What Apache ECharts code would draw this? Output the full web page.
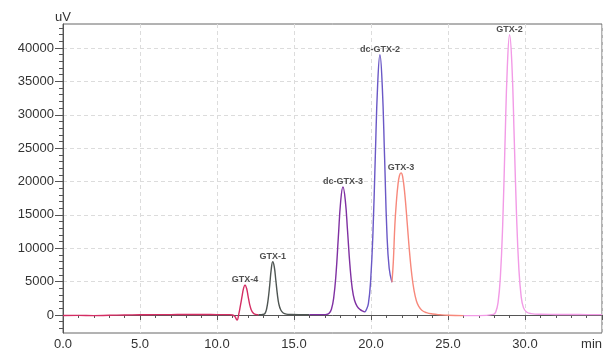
<!DOCTYPE html>
<html>
<head>
<meta charset="utf-8">
<script src="https://cdn.jsdelivr.net/npm/echarts@6/dist/echarts.min.js"></script>
<style>html,body{margin:0;padding:0;background:#fff}#c{width:606px;height:354px}</style>
</head>
<body>
<div id="c"></div>
<script>
// Chromatogram traces [time (min), signal (uV)]
var traceGTX4 = [[0,-80],[1,-60],[2,-100],[3,-50],[4,0],[5,30],[6,50],[7,60],[8,80],[9,80],[10,60],[10.8,50],[11.0,0],[11.15,-200],[11.3,-750],[11.42,200],[11.52,1400],[11.62,2700],[11.72,3950],[11.82,4500],[11.92,4000],[12.02,2800],[12.12,1600],[12.22,800],[12.35,300],[12.5,100],[12.7,40]];
var traceGTX1 = [[12.7,40],[12.9,60],[13.02,100],[13.12,250],[13.22,900],[13.32,2300],[13.42,4400],[13.52,6800],[13.62,8000],[13.72,7200],[13.82,5200],[13.92,3100],[14.02,1600],[14.15,700],[14.3,300],[14.5,130],[14.8,80],[15.3,60],[16,60]];
var traceDcGTX3 = [[16,60],[16.5,50],[17.0,50],[17.1,80],[17.28,250],[17.43,850],[17.58,2600],[17.73,6200],[17.88,11700],[18.03,17000],[18.18,19200],[18.33,17200],[18.48,12500],[18.63,7500],[18.78,4000],[18.93,2200],[19.1,1300],[19.3,800],[19.5,550],[19.6,450]];
var traceDcGTX2 = [[19.6,450],[19.68,700],[19.83,1700],[19.98,5300],[20.13,12500],[20.28,23800],[20.43,34400],[20.58,39000],[20.73,34400],[20.88,23800],[21.03,12500],[21.18,7000],[21.36,4900]];
var traceGTX3 = [[21.36,4900],[21.45,8000],[21.55,13500],[21.65,17000],[21.75,19500],[21.85,20900],[21.95,21300],[22.05,20800],[22.2,18000],[22.35,13800],[22.5,9500],[22.65,6000],[22.8,3600],[22.95,2100],[23.1,1300],[23.3,700],[23.6,350],[24.0,150],[24.5,30],[25,-50],[26,-100]];
var traceGTX2 = [[26,-100],[27,-100],[27.95,100],[28.1,460],[28.25,1850],[28.4,5700],[28.55,13400],[28.7,25600],[28.85,37000],[29.0,42000],[29.15,37500],[29.3,26500],[29.45,15000],[29.6,7000],[29.75,2800],[29.9,1100],[30.1,450],[30.4,200],[31,100],[32,80],[33,70],[34,60],[35,60]];

// Peak annotations
var peakNames = ['GTX-4','GTX-1','dc-GTX-3','dc-GTX-2','GTX-3','GTX-2'];
var peakTimes = [11.82, 13.62, 18.18, 20.58, 21.95, 29.0];
var peakValues = [4500, 8000, 19200, 39000, 21300, 42000];

// Axis ticks
var yMajorTicks = [0,5000,10000,15000,20000,25000,30000,35000,40000];
var yMinorTicks = [-2000,-1000,1000,2000,3000,4000,6000,7000,8000,9000,11000,12000,13000,14000,16000,17000,18000,19000,21000,22000,23000,24000,26000,27000,28000,29000,31000,32000,33000,34000,36000,37000,38000,39000,41000,42000,43000];

var traceColors = ['#d42d63','#4e5552','#7f30a2','#6a58c6','#f7887b','#f29ae6'];
var traces = [traceGTX4, traceGTX1, traceDcGTX3, traceDcGTX2, traceGTX3, traceGTX2];

var series = traces.map(function (d, i) {
  return {
    type: 'line', data: d, showSymbol: false, symbol: 'none',
    smooth: 0.45,
    lineStyle: { color: traceColors[i], width: 1.4 },
    silent: true, z: 3
  };
});
series.push({
  type: 'scatter', symbolSize: 0, z: 5, silent: true,
  data: peakNames.map(function (n, i) { return { name: n, value: [peakTimes[i], peakValues[i]] }; }),
  label: { show: true, position: 'top', distance: 1, formatter: '{b}',
           fontSize: 9, fontWeight: 'bold', color: '#222', fontFamily: 'Liberation Sans, Arial, sans-serif' }
});

var chart = echarts.init(document.getElementById('c'), null, { renderer: 'canvas' });
chart.setOption({
  backgroundColor: '#fff',
  animation: false,
  grid: { left: 63, right: 4, top: 24, bottom: 21, show: true, borderColor: '#666', borderWidth: 1, backgroundColor: 'transparent' },
  xAxis: {
    type: 'value', min: 0, max: 35, interval: 5,
    axisLine: { show: true, lineStyle: { color: '#555' } },
    axisTick: { show: true, length: 5, lineStyle: { color: '#555' } },
    minorTick: { show: true, splitNumber: 5, length: 3, lineStyle: { color: '#555' } },
    axisLabel: { fontSize: 13, color: '#333', margin: 5, alignMaxLabel: 'right',
      fontFamily: 'Liberation Sans, Arial, sans-serif',
      formatter: function (v) { return v === 35 ? 'min' : v.toFixed(1); } },
    splitLine: { show: true, lineStyle: { color: '#dcdcdc', type: [4, 3] } }
  },
  yAxis: [{
    type: 'value', min: -2700, max: 43600, position: 'left',
    name: 'uV', nameLocation: 'end', nameGap: 0,
    nameTextStyle: { fontSize: 13, color: '#333', fontFamily: 'Liberation Sans, Arial, sans-serif' },
    axisLine: { show: true, lineStyle: { color: '#555' } },
    axisTick: { show: true, length: 8, customValues: yMajorTicks, lineStyle: { color: '#555' } },
    axisLabel: { customValues: yMajorTicks, fontSize: 13, color: '#333', margin: 9,
      fontFamily: 'Liberation Sans, Arial, sans-serif',
      formatter: function (v) { return String(v); } },
    splitLine: { show: true, lineStyle: { color: '#dcdcdc', type: [4, 3] } }
  }, {
    type: 'value', min: -2700, max: 43600, position: 'left', offset: 0,
    axisLine: { show: false },
    axisTick: { show: true, length: 4, customValues: yMinorTicks, lineStyle: { color: '#555' } },
    axisLabel: { show: false },
    splitLine: { show: false }
  }],
  series: series
});
</script>
</body>
</html>
